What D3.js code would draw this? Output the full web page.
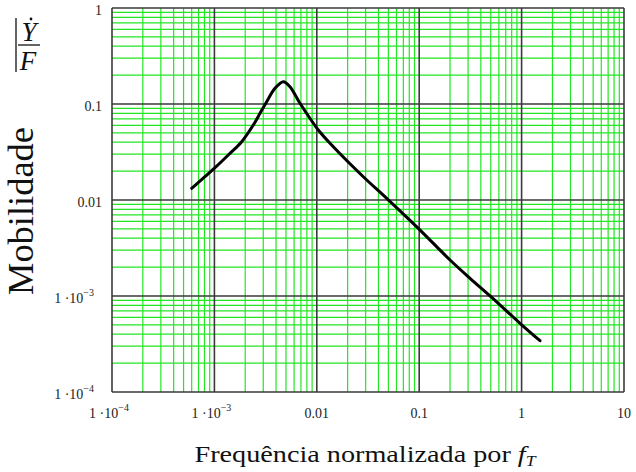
<!DOCTYPE html>
<html>
<head>
<meta charset="utf-8">
<script src="https://cdn.jsdelivr.net/npm/d3@7"></script>
<style>
	body { margin: 0; background: #fff; }
	svg { display: block; }
</style>
</head>
<body>
<svg id="chart" width="636" height="472"></svg>
<script>
'use strict'

// frequency normalised by fT (x) and mobility |Y'/F| (y)
var freq = [6.00e-4, 8.09e-4, 1.014e-3, 1.367e-3, 1.848e-3, 2.398e-3, 2.789e-3, 3.241e-3,
	3.906e-3, 4.71e-3, 5.47e-3, 6.85e-3, 0.01034, 0.01449, 0.02845, 0.04815, 0.0980,
	0.1999, 0.3134, 0.5105, 0.9647, 1.512];
var mobility = [0.01324, 0.01748, 0.02170, 0.02943, 0.04050, 0.06040, 0.0800, 0.1057,
	0.1457, 0.1707, 0.1514, 0.1017, 0.05359, 0.03591, 0.01748, 0.01041, 5.07e-3,
	2.37e-3, 1.529e-3, 9.69e-4, 5.20e-4, 3.42e-4];

var xTicks = [1e-4, 1e-3, 0.01, 0.1, 1, 10];
var xTickLabels = ['1 \u00b710^\u22124', '1 \u00b710^\u22123', '0.01', '0.1', '1', '10'];
var yTicks = [1e-4, 1e-3, 0.01, 0.1, 1];
var yTickLabels = ['1 \u00b710^\u22124', '1 \u00b710^\u22123', '0.01', '0.1', '1'];

var serif = "'Liberation Serif', 'DejaVu Serif', 'Noto Serif', 'Times New Roman', Times, serif";

var svg = d3.select('#chart')
	.attr('font-family', serif);
var plot = { left: 112, right: 624, top: 8, bottom: 392 };

var xScale = d3.scaleLog()
	.domain([1e-4, 10])
	.range([plot.left, plot.right]);
var yScale = d3.scaleLog()
	.domain([1e-4, 1])
	.range([plot.bottom, plot.top]);

function isMajor(v){
	var m = v / Math.pow(10, Math.floor(Math.log10(v) + 1e-9));
	return Math.abs(m - 1) < 1e-6;
}

// minor grid (green)
var minor = svg.append('g').attr('class', 'minor-grid');
minor.selectAll('line.vx')
	.data(xScale.ticks().filter(function(d){ return !isMajor(d); }))
	.enter()
	.append('line')
	.attr('x1', function(d){ return xScale(d); })
	.attr('x2', function(d){ return xScale(d); })
	.attr('y1', plot.top)
	.attr('y2', plot.bottom)
	.attr('stroke', '#22e622')
	.attr('stroke-width', 1.2);
minor.selectAll('line.hy')
	.data(yScale.ticks().filter(function(d){ return !isMajor(d); }))
	.enter()
	.append('line')
	.attr('y1', function(d){ return yScale(d); })
	.attr('y2', function(d){ return yScale(d); })
	.attr('x1', plot.left)
	.attr('x2', plot.right)
	.attr('stroke', '#22e622')
	.attr('stroke-width', 1.2);

// major grid (dark)
var major = svg.append('g').attr('class', 'major-grid');
major.selectAll('line.vx')
	.data(xTicks)
	.enter()
	.append('line')
	.attr('x1', function(d){ return xScale(d); })
	.attr('x2', function(d){ return xScale(d); })
	.attr('y1', plot.top)
	.attr('y2', plot.bottom)
	.attr('stroke', '#3a3a3a')
	.attr('stroke-width', 1.6);
major.selectAll('line.hy')
	.data(yTicks)
	.enter()
	.append('line')
	.attr('y1', function(d){ return yScale(d); })
	.attr('y2', function(d){ return yScale(d); })
	.attr('x1', plot.left)
	.attr('x2', plot.right)
	.attr('stroke', '#3a3a3a')
	.attr('stroke-width', 1.6);

// tick labels
function writeLabel(sel, label){
	var parts = label.split('^');
	sel.append('tspan').text(parts[0]);
	if(parts.length > 1)
		sel.append('tspan')
			.attr('dy', -7)
			.attr('font-size', 10)
			.text(parts[1]);
}

svg.append('g')
	.selectAll('text')
	.data(xTicks)
	.enter()
	.append('text')
	.attr('x', function(d, i){ return xScale(d) - (xTickLabels[i].indexOf('^') >= 0 ? 3 : 0); })
	.attr('y', 418)
	.attr('text-anchor', 'middle')
	.attr('font-size', 14)
	.attr('fill', '#222')
	.each(function(d, i){ writeLabel(d3.select(this), xTickLabels[i]); });

svg.append('g')
	.selectAll('text')
	.data(yTicks)
	.enter()
	.append('text')
	.attr('x', function(d, i){ return yTickLabels[i].indexOf('^') >= 0 ? 94 : 102; })
	.attr('y', function(d){ return yScale(d) + 7; })
	.attr('text-anchor', 'end')
	.attr('font-size', 14)
	.attr('fill', '#222')
	.each(function(d, i){ writeLabel(d3.select(this), yTickLabels[i]); });

// curve
var line = d3.line()
	.x(function(d){ return xScale(d[0]); })
	.y(function(d){ return yScale(d[1]); })
	.curve(d3.curveCatmullRom.alpha(0.5));

svg.append('path')
	.datum(d3.zip(freq, mobility))
	.attr('d', line)
	.attr('fill', 'none')
	.attr('stroke', '#000')
	.attr('stroke-width', 3)
	.attr('stroke-linejoin', 'round')
	.attr('stroke-linecap', 'round');

// axis titles
var xt = svg.append('text')
	.attr('x', 365)
	.attr('y', 462)
	.attr('text-anchor', 'middle')
	.attr('font-size', 24)
	.attr('fill', '#111')
	.attr('textLength', 341)
	.attr('lengthAdjust', 'spacingAndGlyphs');
xt.append('tspan').text('Frequência normalizada por ');
xt.append('tspan').attr('font-style', 'italic').text('f');
xt.append('tspan').attr('font-style', 'italic').attr('font-size', 15).attr('dy', 4).text('T');

svg.append('text')
	.attr('transform', 'translate(33, 211) rotate(-90)')
	.attr('text-anchor', 'middle')
	.attr('font-size', 35)
	.attr('fill', '#111')
	.attr('textLength', 168)
	.attr('lengthAdjust', 'spacingAndGlyphs')
	.text('Mobilidade');

// |Y'/F| symbol
var sym = svg.append('g').attr('class', 'ylabel-symbol');
sym.append('line')
	.attr('x1', 16).attr('x2', 16)
	.attr('y1', 18).attr('y2', 72)
	.attr('stroke', '#111').attr('stroke-width', 1.3);
sym.append('line')
	.attr('x1', 18).attr('x2', 40)
	.attr('y1', 45).attr('y2', 45)
	.attr('stroke', '#111').attr('stroke-width', 1.3);
sym.append('text')
	.attr('x', 29).attr('y', 41)
	.attr('text-anchor', 'middle')
	.attr('font-style', 'italic')
	.attr('font-size', 27)
	.attr('fill', '#111')
	.text('Y');
sym.append('circle')
	.attr('cx', 31).attr('cy', 19).attr('r', 1.4)
	.attr('fill', '#111');
sym.append('text')
	.attr('x', 28).attr('y', 70)
	.attr('text-anchor', 'middle')
	.attr('font-style', 'italic')
	.attr('font-size', 27)
	.attr('fill', '#111')
	.text('F');
</script>
</body>
</html>
